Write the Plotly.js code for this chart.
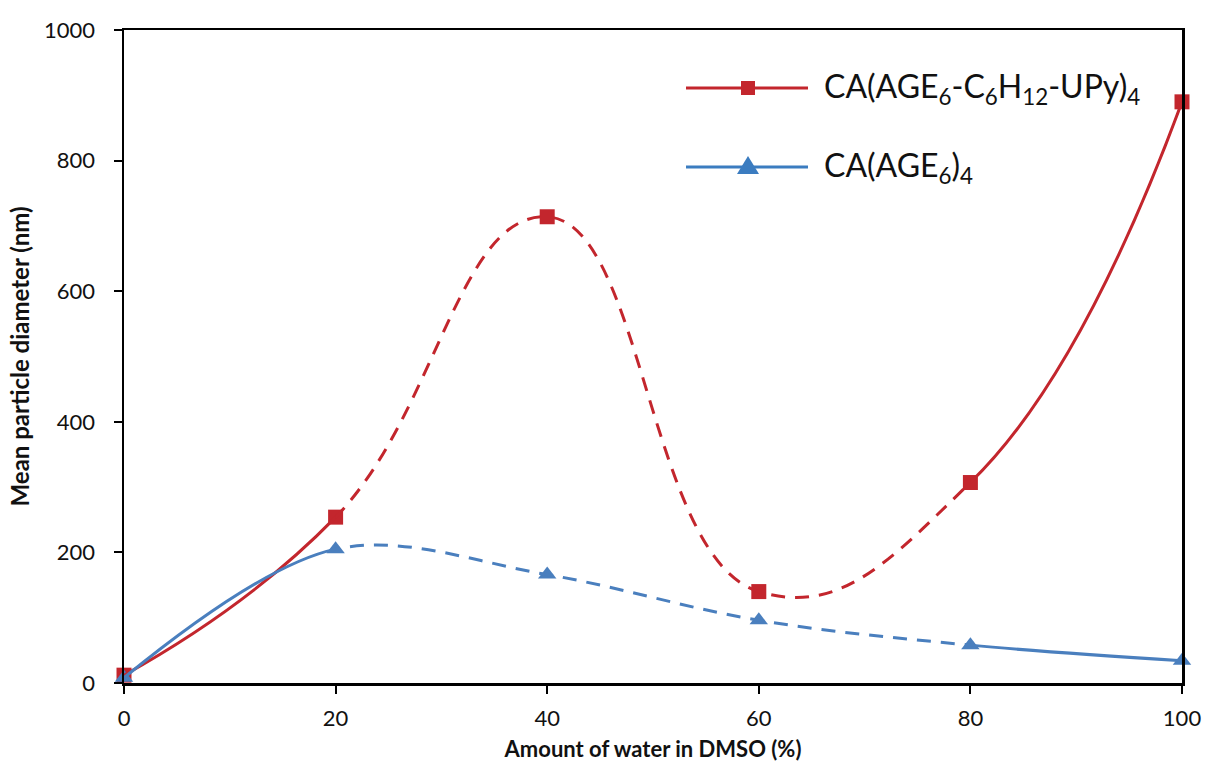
<!DOCTYPE html>
<html>
<head>
<meta charset="utf-8">
<script src="https://cdn.plot.ly/plotly-3.0.1.min.js"></script>
<style>html,body{margin:0;padding:0;background:#fff;}#chart{width:1205px;height:769px;}</style>
</head>
<body>
<div id="chart"></div>
<script>
// Data
var waterPct = [0, 20, 40, 60, 80, 100];
var upyDiameter = [12, 254, 714, 140, 307, 890];   // CA(AGE6-C6H12-UPy)4
var ageDiameter = [8, 205, 166, 96, 58, 34];       // CA(AGE6)4
var upyName = 'CA(AGE<sub>6</sub>-C<sub>6</sub>H<sub>12</sub>-UPy)<sub>4</sub>';
var ageName = 'CA(AGE<sub>6</sub>)<sub>4</sub>';
var xTicks = [0, 20, 40, 60, 80, 100];
var yTicks = [0, 200, 400, 600, 800, 1000];

var RED = '#C3262D';
var BLUE = '#4A7FBE';
var LW = 3;
var DASH = '14px,10px';

// Line segments: each full spline is drawn on a hidden x-axis window so the
// same curve is clipped into solid / dashed / solid pieces.
var segments = [
  {axis: 'x2', dash: 'solid'},
  {axis: 'x3', dash: DASH},
  {axis: 'x4', dash: 'solid'}
];
var traces = [];
traces.push({x: waterPct, y: upyDiameter, mode: 'markers', name: upyName, cliponaxis: false,
  marker: {symbol: 'square', size: 15, color: RED}, showlegend: false});
traces.push({x: waterPct, y: ageDiameter, mode: 'markers', name: ageName, cliponaxis: false,
  marker: {symbol: 'triangle-up', size: 16, color: BLUE}, showlegend: false});
segments.forEach(function (s) {
  traces.push({x: waterPct, y: upyDiameter, xaxis: s.axis, yaxis: 'y', mode: 'lines',
    line: {color: RED, width: LW, shape: 'spline', smoothing: 1.3, dash: s.dash},
    hoverinfo: 'skip', showlegend: false});
  traces.push({x: waterPct, y: ageDiameter, xaxis: s.axis, yaxis: 'y', mode: 'lines',
    line: {color: BLUE, width: LW, shape: 'spline', smoothing: 1, dash: s.dash},
    hoverinfo: 'skip', showlegend: false});
});

var hidden = {visible: false, anchor: 'y', fixedrange: true};
function hx(dom, rng) { return Object.assign({domain: dom, range: rng}, hidden); }

// custom legend (long line samples as in the reference)
var lx0 = 0.5312, lx1 = 0.6465, lmx = 0.5898, ltx = 0.6597;
var ly1 = 0.9112, ly2 = 0.7902;

var layout = {
  width: 1205, height: 769,
  margin: {l: 124, r: 23, t: 30, b: 86},
  paper_bgcolor: '#fff', plot_bgcolor: 'rgba(0,0,0,0)',
  font: {family: 'Lato, "Open Sans", sans-serif', color: '#111'},
  showlegend: false,
  xaxis: {
    domain: [0, 1], range: [0, 100], tickvals: xTicks, ticktext: xTicks.map(String),
    showgrid: false, zeroline: false, showline: true, linecolor: '#000', linewidth: 2.5,
    mirror: true, ticks: 'outside', ticklen: 8, tickwidth: 2, tickcolor: '#000',
    tickfont: {size: 22, color: '#111'}, ticklabelstandoff: 6,
    title: {text: 'Amount of water in DMSO (%)', font: {size: 22, color: '#111', weight: 'bold'}, standoff: 12}
  },
  xaxis2: hx([0, 0.2], [0, 20]),
  xaxis3: hx([0.2, 0.8], [20, 80]),
  xaxis4: hx([0.8, 1], [80, 100]),
  yaxis: {
    range: [0, 1000], tickvals: yTicks, ticktext: yTicks.map(String),
    showgrid: false, zeroline: false, showline: true, linecolor: '#000', linewidth: 2.5,
    mirror: true, ticks: 'outside', ticklen: 8, tickwidth: 2, tickcolor: '#000',
    tickfont: {size: 22, color: '#111'}, ticklabelstandoff: 14,
    title: {text: 'Mean particle diameter (nm)', font: {size: 24, color: '#111', weight: 'bold'}, standoff: 8}
  },
  shapes: [
    {type: 'line', xref: 'paper', yref: 'paper', x0: lx0, x1: lx1, y0: ly1, y1: ly1, line: {color: RED, width: 3}},
    {type: 'rect', xref: 'paper', yref: 'paper', xsizemode: 'pixel', ysizemode: 'pixel',
      xanchor: lmx, yanchor: ly1, x0: -7, x1: 7, y0: -7, y1: 7, fillcolor: RED, line: {width: 0}},
    {type: 'line', xref: 'paper', yref: 'paper', x0: lx0, x1: lx1, y0: ly2, y1: ly2, line: {color: '#3B7CC0', width: 3}},
    {type: 'path', xref: 'paper', yref: 'paper', xsizemode: 'pixel', ysizemode: 'pixel',
      xanchor: lmx, yanchor: ly2, path: 'M -11 -7 L 11 -7 L 0 11 Z', fillcolor: '#3B7CC0', line: {width: 0}}
  ],
  annotations: [
    {xref: 'paper', yref: 'paper', x: ltx, y: ly1, xanchor: 'left', yanchor: 'middle', showarrow: false,
      text: upyName, font: {size: 32, color: '#111'}},
    {xref: 'paper', yref: 'paper', x: ltx, y: ly2, xanchor: 'left', yanchor: 'middle', showarrow: false,
      text: ageName, font: {size: 32, color: '#111'}}
  ]
};

Plotly.newPlot('chart', traces, layout, {displayModeBar: false, staticPlot: true});
</script>
</body>
</html>
